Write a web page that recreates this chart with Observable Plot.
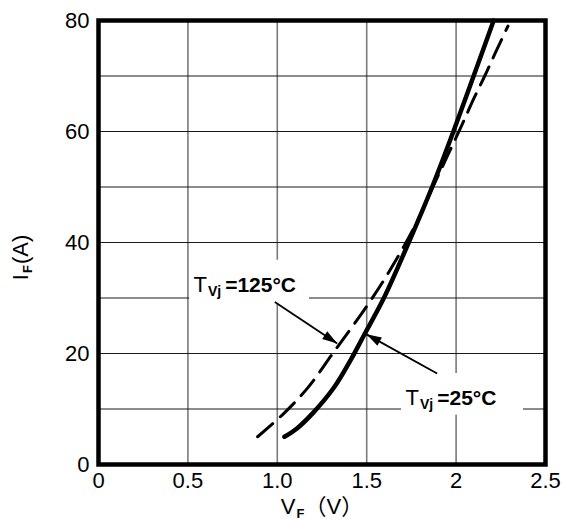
<!DOCTYPE html>
<html>
<head>
<meta charset="utf-8">
<script src="https://cdn.jsdelivr.net/npm/d3@7"></script>
<script src="https://cdn.jsdelivr.net/npm/@observablehq/plot@0.6"></script>
<style>
  html, body { margin: 0; padding: 0; background: #fff; }
  #chart svg { display: block; }
</style>
</head>
<body>
<div id="chart"></div>
<script>
// Diode forward characteristic: forward current I_F versus forward voltage V_F

// Tvj = 25 °C (solid curve)
const vf25 = [1.04, 1.11, 1.20, 1.32, 1.41, 1.49, 1.596, 1.735, 1.866, 1.985, 2.098, 2.21];
const if25 = [5.0, 6.5, 9.3, 14.0, 18.8, 23.6, 30.0, 40.0, 50.0, 60.0, 70.0, 80.0];

// Tvj = 125 °C (dashed curve)
const vf125 = [0.89, 1.03, 1.17, 1.31, 1.50, 1.63, 1.77, 1.87, 1.95, 2.03, 2.10, 2.16, 2.22, 2.29];
const if125 = [5.0, 9.0, 13.8, 20.0, 28.5, 35.0, 43.0, 50.0, 55.5, 61.0, 66.0, 70.0, 74.2, 79.0];

// Axes
const xTicks = [0, 0.5, 1.0, 1.5, 2, 2.5];
const xTickLabels = ["0", "0.5", "1.0", "1.5", "2", "2.5"];
const yTicks = [0, 20, 40, 60, 80];
const yGrid = [10, 20, 30, 40, 50, 60, 70];
const yTitleAt = 37.3; // vertical centre of the y-axis title, in amperes

// Curve labels, in data units: text anchor, white backing box, pointer
const labelNames = ["125°C", "25°C"];
const labelX = [0.531, 1.717];
const labelY = [31.0, 10.7];
const boxX1 = [0.51, 1.695];
const boxX2 = [1.18, 2.377];
const boxY1 = [28.9, 8.9];
const boxY2 = [36.8, 16.4];
const pointerFrom = [[0.986, 29.3], [1.894, 16.4]];
const pointerTo = [[1.335, 21.8], [1.499, 23.45]];

const curve25 = vf25.map((v, i) => ({vf: v, i: if25[i]}));
const curve125 = vf125.map((v, i) => ({vf: v, i: if125[i]}));
const labels = labelNames.map((name, k) => ({
  name, x: labelX[k], y: labelY[k],
  x1: boxX1[k], x2: boxX2[k], y1: boxY1[k], y2: boxY2[k],
  px1: pointerFrom[k][0], py1: pointerFrom[k][1], px2: pointerTo[k][0], py2: pointerTo[k][1]
}));

// Straight pointer with a filled triangular head
function filledHead(index, scales, values, dimensions, context, next) {
  const g = next(index, scales, values, dimensions, context);
  const {x1: X1, y1: Y1, x2: X2, y2: Y2} = values;
  const L = 15, W = 4.6;
  for (const i of index) {
    const a = Math.atan2(Y2[i] - Y1[i], X2[i] - X1[i]);
    const bx = X2[i] - L * Math.cos(a), by = Y2[i] - L * Math.sin(a);
    const pts = [
      [X2[i], Y2[i]],
      [bx + W * Math.sin(a), by - W * Math.cos(a)],
      [bx - W * Math.sin(a), by + W * Math.cos(a)]
    ];
    d3.select(g).append("path")
      .attr("d", "M" + pts.map(p => p.join(",")).join("L") + "Z")
      .attr("fill", "black").attr("stroke", "none");
  }
  return g;
}

// Replaces each text of a text mark by subscripted, mixed-weight spans
function richText(partsFor) {
  return (index, scales, values, dimensions, context, next) => {
    const g = next(index, scales, values, dimensions, context);
    d3.select(g).selectAll("text").each(function(_, j) {
      const sel = d3.select(this).text(null);
      for (const p of partsFor(index[j])) {
        const t = sel.append("tspan").text(p.t);
        if (p.s) t.attr("font-size", p.s);
        if (p.w) t.attr("font-weight", p.w);
        if (p.dy) t.attr("dy", p.dy);
        if (p.dx) t.attr("dx", p.dx);
      }
    });
    return g;
  };
}

const plot = Plot.plot({
  width: 565,
  height: 521,
  marginLeft: 98,
  marginRight: 20,
  marginTop: 20,
  marginBottom: 57,
  style: {
    fontFamily: "'Liberation Sans', Arial, 'Noto Sans CJK SC', sans-serif",
    fontSize: "22px",
    background: "#fff",
    color: "#000"
  },
  x: {domain: [0, 2.5]},
  y: {domain: [0, 80]},
  marks: [
    Plot.ruleX(xTicks.slice(1, -1), {stroke: "#7a7a7a", strokeWidth: 1.6}),
    Plot.ruleY(yGrid, {stroke: "#1a1a1a", strokeWidth: 1.1}),
    Plot.rect(labels, {x1: "x1", x2: "x2", y1: "y1", y2: "y2", fill: "white"}),
    Plot.line(curve125, {
      x: "vf", y: "i", curve: "catmull-rom",
      stroke: "black", strokeWidth: 3, strokeDasharray: "20,10"
    }),
    Plot.line(curve25, {
      x: "vf", y: "i", curve: "catmull-rom",
      stroke: "black", strokeWidth: 4.5
    }),
    Plot.link(labels, {
      x1: "px1", y1: "py1", x2: "px2", y2: "py2",
      stroke: "black", strokeWidth: 1.8, render: filledHead
    }),
    Plot.text(labels, {
      x: "x", y: "y", text: d => "TVj =" + d.name,
      textAnchor: "start", lineAnchor: "bottom",
      render: richText(i => [
        {t: "T", s: 22},
        {t: "Vj", s: 14, w: "bold", dy: 4, dx: 1},
        {t: "=" + labels[i].name, s: 21, w: "bold", dy: -4, dx: 4}
      ])
    }),
    Plot.text([0], {
      frameAnchor: "bottom", dy: 49, lineAnchor: "bottom", textAnchor: "middle",
      text: () => "VF（V）",
      render: richText(() => [
        {t: "V"},
        {t: "F", s: 13, w: "bold", dy: 4, dx: 1},
        {t: "（V）", dy: -4}
      ])
    }),
    Plot.text([yTitleAt], {
      y: d => d, frameAnchor: "left", dx: -78, rotate: -90, textAnchor: "middle",
      text: () => "IF(A)",
      render: richText(() => [
        {t: "I"},
        {t: "F", s: 13, w: "bold", dy: 4, dx: 1},
        {t: "(A)", dy: -4, dx: 1}
      ])
    }),
    Plot.frame({stroke: "black", strokeWidth: 4.5}),
    Plot.axisX({
      ticks: xTicks, tickSize: 0, tickPadding: 8, label: null,
      tickFormat: d => xTickLabels[xTicks.indexOf(d)]
    }),
    Plot.axisY({ticks: yTicks, tickSize: 0, tickPadding: 9, label: null})
  ]
});

document.getElementById("chart").appendChild(plot);
</script>
</body>
</html>
